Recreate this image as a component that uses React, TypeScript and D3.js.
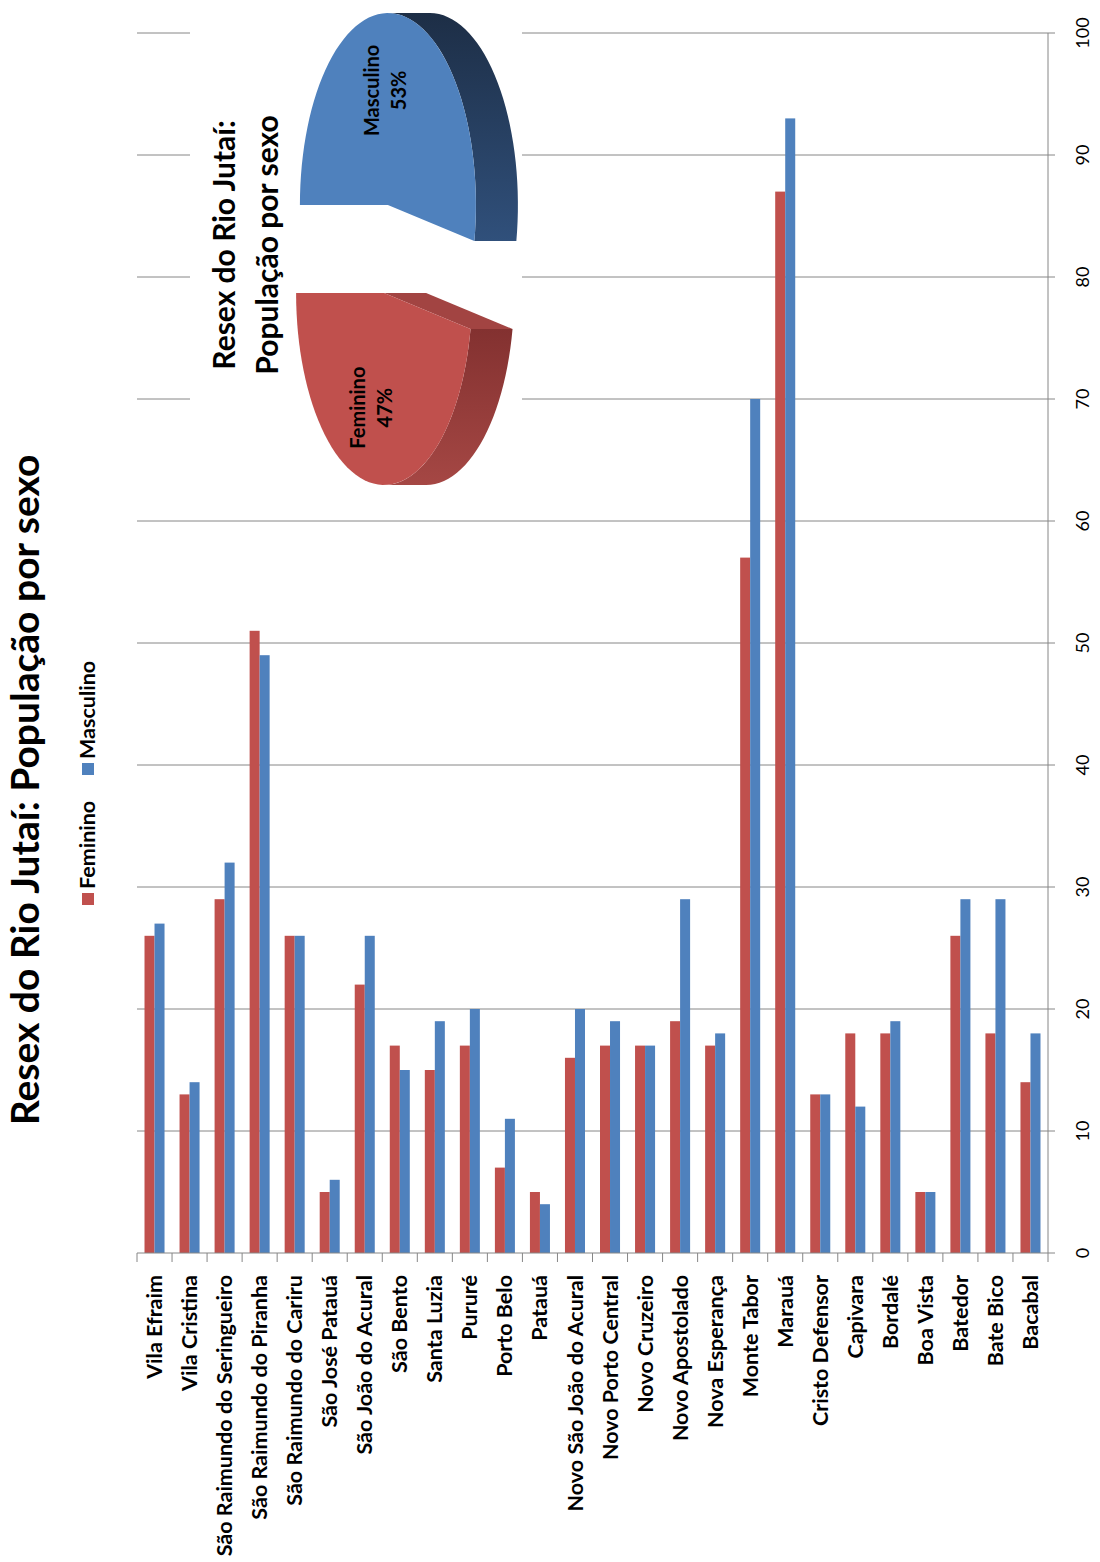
import React from "react";
import * as d3 from "d3";

// Communities of the reserve, in chart order (top to bottom when read upright)
const categories = [
  "Vila Efraim",
  "Vila Cristina",
  "São Raimundo do Seringueiro",
  "São Raimundo do Piranha",
  "São Raimundo do Cariru",
  "São José Patauá",
  "São João do Acural",
  "São Bento",
  "Santa Luzia",
  "Pururé",
  "Porto Belo",
  "Patauá",
  "Novo São João do Acural",
  "Novo Porto Central",
  "Novo Cruzeiro",
  "Novo Apostolado",
  "Nova Esperança",
  "Monte Tabor",
  "Marauá",
  "Cristo Defensor",
  "Capivara",
  "Bordalé",
  "Boa Vista",
  "Batedor",
  "Bate Bico",
  "Bacabal",
];

const feminino = [26, 13, 29, 51, 26, 5, 22, 17, 15, 17, 7, 5, 16, 17, 17, 19, 17, 57, 87, 13, 18, 18, 5, 26, 18, 14];
const masculino = [27, 14, 32, 49, 26, 6, 26, 15, 19, 20, 11, 4, 20, 19, 17, 29, 18, 70, 93, 13, 12, 19, 5, 29, 29, 18];

const seriesNames = ["Feminino", "Masculino"];
const seriesColors = ["#C0504D", "#4F81BD"];
const valueTicks = [0, 10, 20, 30, 40, 50, 60, 70, 80, 90, 100];

const pieLabels = ["Feminino", "Masculino"];
const pieValues = [47, 53];

const mainTitle = "Resex do Rio Jutaí: População por sexo";
const pieTitle = ["Resex do Rio Jutaí:", "População por sexo"];

// Upright drawing space; the whole chart is turned a quarter turn counter-clockwise
const W = 1562;
const FONT = "Lato, 'Open Sans', sans-serif";

export default function App() {
  const x = d3.scaleLinear().domain([0, 100]).range([309, 1529]);
  const y = d3.scaleBand<string>().domain(categories).range([137, 1048]).padding(0);
  const ys = d3
    .scaleBand<string>()
    .domain(seriesNames)
    .range([0, y.bandwidth()])
    .paddingInner(0)
    .paddingOuter(0.75);

  const series = [feminino, masculino];

  // Category tick positions at band boundaries
  const catTicks = categories.map((c) => y(c) as number).concat([y.range()[1]]);

  // 3D pie geometry
  const total = d3.sum(pieValues);
  const share0 = pieValues[0] / total;
  const pieGen = d3
    .pie<number>()
    .sort(null)
    .startAngle(-2 * Math.PI * share0)
    .endAngle(2 * Math.PI * (1 - share0));
  const arcs = pieGen(pieValues);
  const cx = 1313;
  const cy = 386;
  const rx = 192;
  const ry = 88;
  const depth = 42;
  const explode = 0.23;

  const faceColors = ["#C0504D", "#4F81BD"];
  const wallFills = ["url(#wallRed)", "url(#wallBlue)"];
  const cutColors = ["#A24442", "#2A4670"];

  const slices = arcs.map((a, i) => {
    const a0 = a.startAngle - Math.PI / 2;
    const a1 = a.endAngle - Math.PI / 2;
    const mid = (a0 + a1) / 2;
    const ox = explode * rx * Math.cos(mid);
    const oy = explode * ry * Math.sin(mid);
    const pt = (ang: number, dz = 0): [number, number] => [
      cx + ox + rx * Math.cos(ang),
      cy + oy + ry * Math.sin(ang) + dz,
    ];
    const c: [number, number] = [cx + ox, cy + oy];
    const arcPts = (s: number, e: number, dz = 0) => {
      const n = Math.max(2, Math.ceil((Math.abs(e - s) / (2 * Math.PI)) * 120));
      return d3.range(n + 1).map((k) => pt(s + ((e - s) * k) / n, dz));
    };
    const line = (pts: [number, number][]) =>
      "M" + pts.map((p) => `${p[0].toFixed(2)},${p[1].toFixed(2)}`).join("L") + "Z";

    const face = line([c, ...arcPts(a0, a1)]);

    // Outer wall segments that face the viewer (sin > 0)
    const walls: string[] = [];
    for (let k = -2; k <= 2; k++) {
      const s = Math.max(a0, 2 * Math.PI * k);
      const e = Math.min(a1, 2 * Math.PI * k + Math.PI);
      if (e > s) {
        walls.push(line([...arcPts(s, e), ...arcPts(s, e, depth).reverse()]));
      }
    }

    // Flat cut walls exposed by the explosion
    const cuts: string[] = [];
    if (Math.cos(a0) < 0) {
      cuts.push(line([c, pt(a0), pt(a0, depth), [c[0], c[1] + depth]]));
    }
    if (Math.cos(a1) > 0) {
      cuts.push(line([c, pt(a1), pt(a1, depth), [c[0], c[1] + depth]]));
    }

    const lr = 0.6;
    const label: [number, number] = [c[0] + lr * rx * Math.cos(mid), c[1] + lr * ry * Math.sin(mid)];

    return { i, face, walls, cuts, label };
  });

  return (
    <svg
      width={1100}
      height={1562}
      style={{ position: "absolute", left: 0, top: 0, background: "#fff" }}
      fontFamily={FONT}
    >
      <defs>
        <linearGradient id="wallBlue" x1="0" y1="0" x2="1" y2="0">
          <stop offset="0" stopColor="#30507B" />
          <stop offset="1" stopColor="#1D2E46" />
        </linearGradient>
        <linearGradient id="wallRed" x1="0" y1="0" x2="1" y2="0">
          <stop offset="0" stopColor="#A54744" />
          <stop offset="1" stopColor="#833130" />
        </linearGradient>
      </defs>
      <rect x={0} y={0} width={1100} height={1562} fill="#fff" />
      <g transform={`translate(0,${W}) rotate(-90)`}>
        {/* Main title */}
        <text x={772} y={39} textAnchor="middle" fontSize={39} fontWeight="bold" fill="#000">
          {mainTitle}
        </text>

        {/* Legend */}
        {seriesNames.map((s, i) => {
          const lx = [657, 787][i];
          return (
            <g key={s}>
              <rect x={lx} y={82} width={12} height={12} fill={seriesColors[i]} />
              <text x={lx + 16} y={95} fontSize={21.5} fontWeight="bold" fill="#000">
                {s}
              </text>
            </g>
          );
        })}

        {/* Gridlines */}
        {valueTicks.slice(1).map((t) => (
          <line key={t} x1={x(t)} x2={x(t)} y1={137} y2={1048} stroke="#868686" strokeWidth={1} />
        ))}

        {/* Inset chart area */}
        <rect x={1067} y={190} width={W - 1067} height={332} fill="#fff" />

        {/* Bars */}
        {categories.map((c, ci) => (
          <g key={c}>
            {seriesNames.map((s, si) => (
              <rect
                key={s}
                x={x(0)}
                y={(y(c) as number) + (ys(s) as number)}
                width={x(series[si][ci]) - x(0)}
                height={ys.bandwidth()}
                fill={seriesColors[si]}
              />
            ))}
          </g>
        ))}

        {/* Category axis */}
        <line x1={x(0)} x2={x(0)} y1={137} y2={1048} stroke="#868686" strokeWidth={1} />
        {catTicks.map((t, i) => (
          <line key={i} x1={x(0) - 9} x2={x(0)} y1={t} y2={t} stroke="#868686" strokeWidth={1} />
        ))}
        {categories.map((c) => (
          <text
            key={c}
            x={287}
            y={(y(c) as number) + y.bandwidth() / 2}
            dy="0.35em"
            textAnchor="end"
            fontSize={21.5}
            fontWeight="bold"
            fill="#000"
          >
            {c}
          </text>
        ))}

        {/* Value axis */}
        <line x1={x(0)} x2={x(100)} y1={1048} y2={1048} stroke="#868686" strokeWidth={1} />
        {valueTicks.map((t) => (
          <g key={t}>
            <line x1={x(t)} x2={x(t)} y1={1048} y2={1055} stroke="#868686" strokeWidth={1} />
            <text x={x(t)} y={1089} textAnchor="middle" fontSize={18} fill="#000">
              {t}
            </text>
          </g>
        ))}

        {/* Inset pie title */}
        {pieTitle.map((t, i) => (
          <text key={i} x={1317} y={235 + i * 43} textAnchor="middle" fontSize={30} fontWeight="bold" fill="#000">
            {t}
          </text>
        ))}

        {/* 3D pie */}
        {slices.map((s) => (
          <g key={s.i}>
            {s.cuts.map((d, k) => (
              <path key={"c" + k} d={d} fill={cutColors[s.i]} />
            ))}
            {s.walls.map((d, k) => (
              <path key={"w" + k} d={d} fill={wallFills[s.i]} />
            ))}
            <path d={s.face} fill={faceColors[s.i]} />
            <text x={s.label[0]} y={s.label[1] - 14} textAnchor="middle" fontSize={20} fontWeight="bold" fill="#000">
              {pieLabels[s.i]}
            </text>
            <text x={s.label[0]} y={s.label[1] + 13} textAnchor="middle" fontSize={20} fontWeight="bold" fill="#000">
              {`${pieValues[s.i]}%`}
            </text>
          </g>
        ))}
      </g>
    </svg>
  );
}
